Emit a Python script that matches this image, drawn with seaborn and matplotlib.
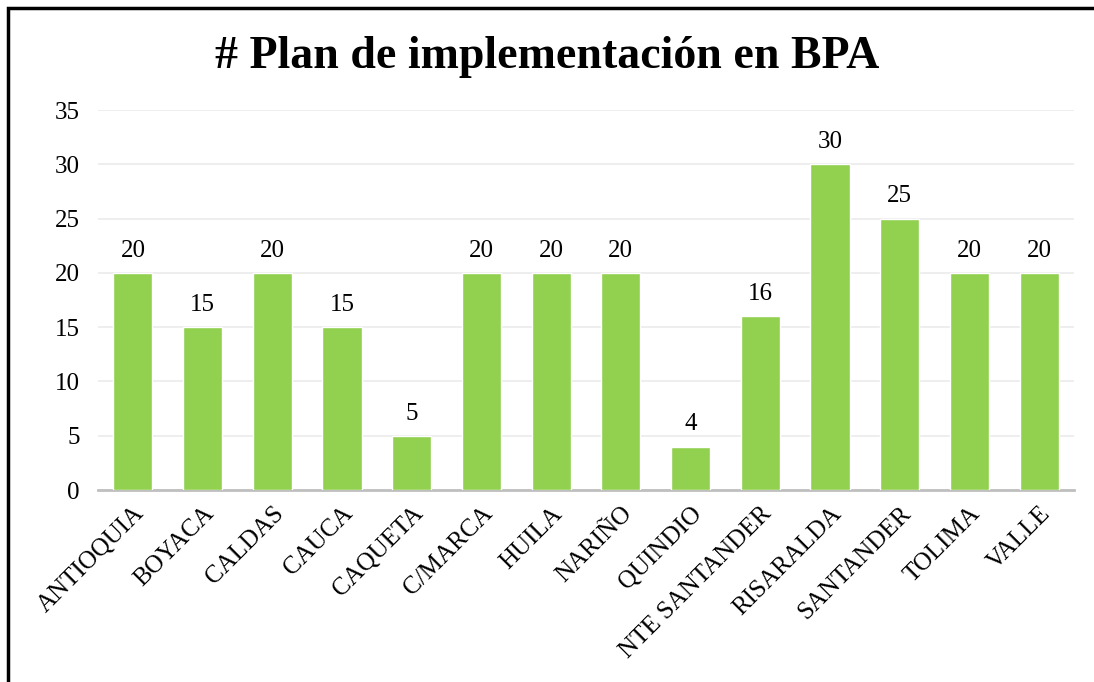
import seaborn as sns
import matplotlib.pyplot as plt
import pandas as pd
from matplotlib.patches import Rectangle

# data
departamentos = ["ANTIOQUIA", "BOYACA", "CALDAS", "CAUCA", "CAQUETA", "C/MARCA",
                 "HUILA", "NARIÑO", "QUINDIO", "NTE SANTANDER", "RISARALDA",
                 "SANTANDER", "TOLIMA", "VALLE"]
planes = [20, 15, 20, 15, 5, 20, 20, 20, 4, 16, 30, 25, 20, 20]

df = pd.DataFrame({"dep": departamentos, "n": planes})

sns.set_style("white")
plt.rcParams['font.family'] = ['Liberation Serif', 'DejaVu Serif']
plt.rcParams['text.color'] = 'black'
plt.rcParams['xtick.color'] = 'black'
plt.rcParams['ytick.color'] = 'black'

fig = plt.figure(figsize=(10.94, 6.82), dpi=100)
ax = fig.add_axes([0.0896, 0.2815, 0.8921, 0.5572])

sns.barplot(data=df, x="dep", y="n", color="#92D050", width=0.56,
            saturation=1, ax=ax, zorder=3)

ax.set_ylim(0, 35)
ax.set_yticks(range(0, 36, 5))
ax.grid(axis="y", color="#EBEBEB", linewidth=1.2, zorder=0)
ax.set_xlabel("")
ax.set_ylabel("")
for s in ["top", "right", "left"]:
    ax.spines[s].set_visible(False)
ax.spines["bottom"].set_color("#BFBFBF")
ax.spines["bottom"].set_linewidth(2)
ax.tick_params(axis="y", labelsize=18, length=0, pad=13)
ax.tick_params(axis="x", labelsize=18, length=0, pad=9)
plt.setp(ax.get_xticklabels(), rotation=45, ha="right", rotation_mode="anchor")

for c in ax.containers:
    ax.bar_label(c, fontsize=18, padding=8)

fig.text(0.5, 0.916, "# Plan de implementación en BPA", ha="center", va="center",
         fontsize=33, fontweight="bold")

# frame of the original picture (only top and left are visible)
fig.patches.append(Rectangle((8 / 1094, -0.1), 1.2, 1 - 8 / 682 + 0.1,
                             transform=fig.transFigure, fill=False,
                             edgecolor="black", linewidth=2.5))

fig.savefig("out.png", dpi=100)
